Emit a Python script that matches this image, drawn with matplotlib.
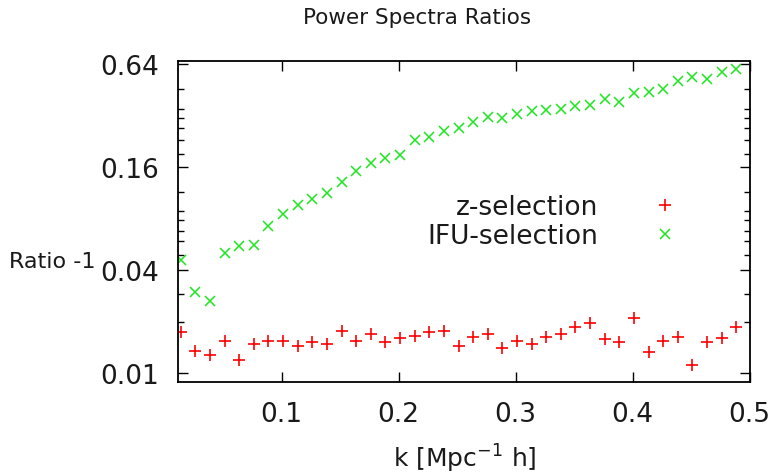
import matplotlib
matplotlib.use("Agg")
import matplotlib.pyplot as plt
from matplotlib.ticker import FixedLocator, FixedFormatter, NullFormatter

# ---- data ----
k = [0.0137, 0.0262, 0.0387, 0.0512, 0.0637, 0.0762, 0.0887, 0.1012, 0.1137,
     0.1262, 0.1387, 0.1512, 0.1637, 0.1762, 0.1887, 0.2012, 0.2137, 0.2262,
     0.2387, 0.2512, 0.2637, 0.2762, 0.2887, 0.3012, 0.3137, 0.3262, 0.3387,
     0.3512, 0.3637, 0.3762, 0.3887, 0.4012, 0.4137, 0.4262, 0.4387, 0.4512,
     0.4637, 0.4762, 0.4887]

z_sel = [0.0173, 0.0134, 0.0128, 0.0154, 0.0119, 0.0148, 0.0154, 0.0154, 0.0144,
         0.0151, 0.0147, 0.0177, 0.0154, 0.0170, 0.0151, 0.0160, 0.0165, 0.0174,
         0.0177, 0.0144, 0.0162, 0.0170, 0.0140, 0.0154, 0.0148, 0.0162, 0.0170,
         0.0186, 0.0196, 0.0158, 0.0151, 0.0209, 0.0132, 0.0154, 0.0162, 0.0111,
         0.0151, 0.0161, 0.0187]

ifu_sel = [0.0458, 0.0296, 0.0265, 0.0503, 0.0555, 0.0560, 0.0720, 0.0850, 0.0956,
           0.1040, 0.1132, 0.1313, 0.151, 0.169, 0.180, 0.187, 0.230, 0.240,
           0.259, 0.269, 0.293, 0.312, 0.309, 0.327, 0.340, 0.346, 0.349,
           0.365, 0.370, 0.401, 0.384, 0.435, 0.439, 0.459, 0.507, 0.535,
           0.523, 0.577, 0.596]

y_major = [0.01, 0.04, 0.16, 0.64]
y_major_labels = ["0.01", "0.04", "0.16", "0.64"]
y_minor = [0.02, 0.029, 0.049, 0.059, 0.068, 0.078, 0.088, 0.115,
           0.19, 0.23, 0.27, 0.31, 0.35, 0.46]
x_major = [0.1, 0.2, 0.3, 0.4, 0.5]
x_major_labels = ["0.1", "0.2", "0.3", "0.4", "0.5"]

series_labels = ["z-selection", "IFU-selection"]
title = "Power Spectra Ratios"
xlabel = r"k [Mpc$^{\mathregular{-1}}$ h]"
ylabel = "Ratio -1"

# ---- figure ----
W, H = 775, 477
fig = plt.figure(figsize=(W / 100, H / 100), dpi=100)
plt.rcParams['font.family'] = ['DejaVu Sans']

def fx(px):
    return px / W

def fy(py):
    return 1 - py / H

ax = fig.add_axes([fx(178.3), fy(382.7), fx(749.5) - fx(178.3), fy(62) - fy(382.7)])

ax.plot(k, z_sel, linestyle='none', marker='+', color='#ff0000',
        markersize=8, markeredgewidth=1.2, label=series_labels[0])
ax.plot(k, ifu_sel, linestyle='none', marker='x', color='#1ee61e',
        markersize=7, markeredgewidth=1.1, label=series_labels[1])

ax.set_yscale('log')
ax.set_xlim(0.0116, 0.5)
ax.set_ylim(0.0089, 0.666)

ax.yaxis.set_major_locator(FixedLocator(y_major))
ax.yaxis.set_major_formatter(FixedFormatter(y_major_labels))
ax.yaxis.set_minor_locator(FixedLocator(y_minor))
ax.yaxis.set_minor_formatter(NullFormatter())
ax.xaxis.set_major_locator(FixedLocator(x_major))
ax.xaxis.set_major_formatter(FixedFormatter(x_major_labels))
ax.xaxis.set_minor_locator(FixedLocator([]))

tick_fs = 19
ax.tick_params(which='both', direction='in', top=True, right=True,
               color='black', width=1.0)
ax.tick_params(which='major', length=7, labelsize=tick_fs, pad=14,
               labelcolor='#1a1a1a')
ax.tick_params(which='minor', length=4.3)
for sp in ax.spines.values():
    sp.set_linewidth(1.3)
    sp.set_color('black')

leg_fs = 19
leg = ax.legend(loc='center right', bbox_to_anchor=(fx(691), fy(222.5)),
                bbox_transform=fig.transFigure, frameon=False,
                markerfirst=False, fontsize=leg_fs, handlelength=2.0,
                handletextpad=1.5, labelspacing=0.13, borderpad=0,
                borderaxespad=0, numpoints=1)
for t in leg.get_texts():
    t.set_color('#1a1a1a')

fig.text(fx(417), fy(18), title, ha='center', va='center', fontsize=15.5,
         color='#1a1a1a')
fig.text(fx(465), fy(459), xlabel, ha='center', va='center', fontsize=18,
         color='#1a1a1a')
fig.text(fx(52), fy(262), ylabel, ha='center', va='center', fontsize=16,
         color='#1a1a1a')

fig.savefig("out.png", dpi=100)
